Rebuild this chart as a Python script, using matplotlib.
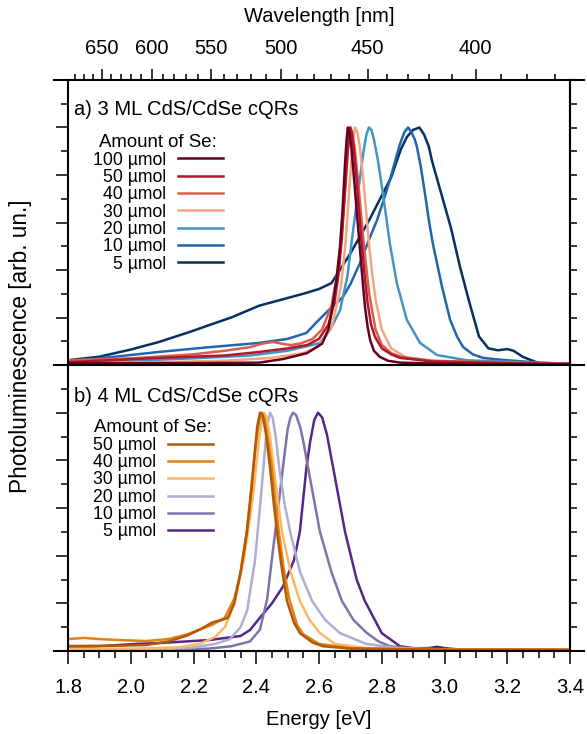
import numpy as np
import matplotlib
matplotlib.use("Agg")
import matplotlib.pyplot as plt
from matplotlib.lines import Line2D
from matplotlib.ticker import MultipleLocator, FixedLocator, NullFormatter

plt.rcParams['font.family'] = ['Liberation Sans', 'DejaVu Sans']

# ---------------- data: panel a) 3 ML ----------------
a_labels = ["100 µmol", "50 µmol", "40 µmol", "30 µmol", "20 µmol", "10 µmol", "5 µmol"]
a_colors = ["#67001f", "#b2182b", "#d6604d", "#f4a582", "#4393c3", "#2166ac", "#053061"]

a100_E = [1.80, 2.00, 2.20, 2.41, 2.485, 2.562, 2.61, 2.63, 2.641, 2.655, 2.667, 2.675, 2.683, 2.688, 2.692, 2.697, 2.703, 2.712, 2.722, 2.731, 2.74, 2.747, 2.755, 2.763, 2.775, 2.794, 2.82, 2.858, 3.00, 3.40]
a100_I = [0.008, 0.008, 0.008, 0.010, 0.025, 0.050, 0.090, 0.150, 0.230, 0.350, 0.500, 0.650, 0.850, 0.950, 1.000, 0.980, 0.920, 0.780, 0.620, 0.480, 0.340, 0.240, 0.160, 0.105, 0.060, 0.034, 0.018, 0.010, 0.005, 0.002]

a50_E = [1.80, 2.09, 2.30, 2.41, 2.50, 2.562, 2.60, 2.63, 2.65, 2.662, 2.672, 2.682, 2.69, 2.695, 2.699, 2.704, 2.71, 2.72, 2.728, 2.737, 2.746, 2.755, 2.766, 2.778, 2.80, 2.83, 2.858, 2.96, 3.20, 3.40]
a50_I = [0.012, 0.030, 0.040, 0.055, 0.070, 0.084, 0.110, 0.170, 0.270, 0.380, 0.520, 0.720, 0.880, 0.960, 1.000, 0.980, 0.920, 0.780, 0.640, 0.500, 0.370, 0.260, 0.170, 0.120, 0.070, 0.045, 0.030, 0.015, 0.008, 0.005]

a40_E = [1.80, 2.00, 2.20, 2.30, 2.38, 2.42, 2.453, 2.48, 2.51, 2.54, 2.58, 2.61, 2.64, 2.66, 2.672, 2.684, 2.692, 2.70, 2.706, 2.714, 2.725, 2.735, 2.745, 2.76, 2.78, 2.80, 2.83, 2.86, 2.96, 3.20, 3.40]
a40_I = [0.020, 0.028, 0.045, 0.060, 0.075, 0.090, 0.097, 0.090, 0.084, 0.090, 0.110, 0.150, 0.250, 0.400, 0.540, 0.750, 0.900, 1.000, 0.980, 0.910, 0.770, 0.620, 0.480, 0.300, 0.150, 0.085, 0.050, 0.035, 0.018, 0.010, 0.005]

a30_E = [1.80, 2.10, 2.30, 2.45, 2.55, 2.60, 2.64, 2.67, 2.685, 2.697, 2.705, 2.71, 2.715, 2.722, 2.73, 2.74, 2.75, 2.76, 2.77, 2.78, 2.80, 2.83, 2.88, 3.00, 3.40]
a30_I = [0.010, 0.012, 0.018, 0.030, 0.050, 0.080, 0.160, 0.330, 0.520, 0.750, 0.890, 0.960, 1.000, 0.980, 0.920, 0.800, 0.650, 0.500, 0.380, 0.280, 0.150, 0.070, 0.030, 0.012, 0.005]

a20_E = [1.80, 2.00, 2.20, 2.38, 2.50, 2.58, 2.603, 2.635, 2.667, 2.69, 2.71, 2.731, 2.742, 2.751, 2.759, 2.767, 2.775, 2.788, 2.804, 2.826, 2.848, 2.88, 2.922, 2.976, 3.07, 3.231, 3.40]
a20_I = [0.012, 0.018, 0.028, 0.040, 0.060, 0.085, 0.093, 0.147, 0.230, 0.370, 0.580, 0.790, 0.900, 0.970, 1.000, 0.990, 0.950, 0.860, 0.720, 0.510, 0.345, 0.190, 0.093, 0.042, 0.020, 0.012, 0.005]

a10_E = [1.80, 1.95, 2.09, 2.25, 2.41, 2.50, 2.56, 2.59, 2.63, 2.676, 2.70, 2.731, 2.76, 2.785, 2.81, 2.826, 2.845, 2.858, 2.872, 2.884, 2.895, 2.905, 2.912, 2.925, 2.938, 2.95, 2.963, 2.992, 3.018, 3.04, 3.059, 3.09, 3.123, 3.18, 3.231, 3.30, 3.40]
a10_I = [0.015, 0.035, 0.055, 0.075, 0.093, 0.110, 0.135, 0.177, 0.230, 0.286, 0.340, 0.430, 0.530, 0.610, 0.710, 0.780, 0.870, 0.930, 0.980, 1.000, 0.980, 0.950, 0.920, 0.830, 0.720, 0.610, 0.510, 0.330, 0.190, 0.120, 0.076, 0.045, 0.030, 0.022, 0.017, 0.010, 0.005]

a5_E = [1.80, 1.90, 2.00, 2.09, 2.19, 2.25, 2.32, 2.41, 2.48, 2.55, 2.60, 2.64, 2.70, 2.76, 2.83, 2.86, 2.88, 2.90, 2.92, 2.935, 2.95, 2.96, 2.99, 3.02, 3.05, 3.08, 3.11, 3.14, 3.17, 3.20, 3.22, 3.25, 3.30, 3.35, 3.40]
a5_I = [0.020, 0.035, 0.065, 0.097, 0.140, 0.168, 0.200, 0.250, 0.275, 0.300, 0.320, 0.345, 0.470, 0.610, 0.790, 0.905, 0.960, 0.990, 1.000, 0.970, 0.920, 0.860, 0.720, 0.580, 0.410, 0.260, 0.120, 0.070, 0.062, 0.067, 0.060, 0.034, 0.008, 0.003, 0.000]

# ---------------- data: panel b) 4 ML ----------------
b_labels = ["50 µmol", "40 µmol", "30 µmol", "20 µmol", "10 µmol", "5 µmol"]
b_colors = ["#b35806", "#e08214", "#fdb863", "#b2abd2", "#8073ac", "#542788"]

b50_E = [1.80, 1.95, 2.05, 2.12, 2.18, 2.22, 2.26, 2.29, 2.31, 2.33, 2.35, 2.37, 2.385, 2.395, 2.403, 2.412, 2.42, 2.43, 2.444, 2.455, 2.466, 2.48, 2.498, 2.52, 2.539, 2.58, 2.613, 2.70, 3.00, 3.40]
b50_I = [0.021, 0.022, 0.025, 0.040, 0.065, 0.090, 0.120, 0.130, 0.140, 0.200, 0.330, 0.500, 0.680, 0.830, 0.940, 1.000, 0.990, 0.920, 0.770, 0.630, 0.500, 0.360, 0.210, 0.120, 0.075, 0.035, 0.020, 0.010, 0.005, 0.005]

b40_E = [1.80, 1.85, 1.90, 1.98, 2.05, 2.12, 2.18, 2.22, 2.26, 2.30, 2.33, 2.35, 2.37, 2.39, 2.40, 2.41, 2.418, 2.426, 2.436, 2.45, 2.46, 2.472, 2.487, 2.505, 2.53, 2.55, 2.60, 2.70, 3.00, 3.40]
b40_I = [0.050, 0.055, 0.050, 0.045, 0.042, 0.050, 0.070, 0.090, 0.110, 0.140, 0.220, 0.330, 0.500, 0.760, 0.880, 0.970, 1.000, 0.980, 0.900, 0.770, 0.640, 0.500, 0.350, 0.220, 0.110, 0.070, 0.030, 0.012, 0.006, 0.005]

b30_E = [1.80, 2.00, 2.15, 2.22, 2.27, 2.30, 2.33, 2.36, 2.39, 2.40, 2.41, 2.418, 2.425, 2.433, 2.443, 2.453, 2.467, 2.482, 2.51, 2.539, 2.57, 2.603, 2.65, 2.75, 3.00, 3.40]
b30_I = [0.010, 0.010, 0.015, 0.030, 0.060, 0.100, 0.200, 0.380, 0.650, 0.780, 0.900, 0.970, 1.000, 0.980, 0.910, 0.800, 0.650, 0.500, 0.330, 0.210, 0.130, 0.075, 0.030, 0.012, 0.006, 0.005]

b20_E = [1.80, 2.10, 2.20, 2.27, 2.316, 2.35, 2.371, 2.396, 2.415, 2.43, 2.437, 2.444, 2.452, 2.462, 2.475, 2.49, 2.508, 2.54, 2.578, 2.62, 2.667, 2.75, 2.85, 3.00, 3.40]
b20_I = [0.005, 0.008, 0.015, 0.030, 0.050, 0.100, 0.170, 0.380, 0.650, 0.880, 0.960, 1.000, 0.980, 0.900, 0.750, 0.620, 0.500, 0.330, 0.210, 0.130, 0.075, 0.030, 0.012, 0.006, 0.004]

b10_E = [1.80, 2.10, 2.25, 2.32, 2.38, 2.412, 2.435, 2.453, 2.47, 2.485, 2.50, 2.509, 2.517, 2.527, 2.54, 2.55, 2.565, 2.603, 2.64, 2.673, 2.71, 2.753, 2.79, 2.826, 2.90, 3.00, 3.40]
b10_I = [0.003, 0.005, 0.010, 0.020, 0.040, 0.090, 0.220, 0.420, 0.600, 0.770, 0.930, 0.980, 1.000, 0.990, 0.940, 0.880, 0.770, 0.500, 0.330, 0.210, 0.130, 0.075, 0.040, 0.020, 0.010, 0.007, 0.004]

b5_E = [1.80, 1.90, 2.02, 2.10, 2.25, 2.35, 2.38, 2.412, 2.45, 2.485, 2.52, 2.539, 2.56, 2.572, 2.585, 2.597, 2.61, 2.625, 2.645, 2.683, 2.72, 2.746, 2.80, 2.858, 2.90, 2.95, 2.976, 3.00, 3.05, 3.40]
b5_I = [0.010, 0.020, 0.030, 0.034, 0.046, 0.063, 0.088, 0.140, 0.200, 0.270, 0.380, 0.500, 0.770, 0.880, 0.970, 1.000, 0.980, 0.910, 0.770, 0.500, 0.300, 0.210, 0.075, 0.020, 0.012, 0.012, 0.018, 0.012, 0.006, 0.004]

a_E = [a100_E, a50_E, a40_E, a30_E, a20_E, a10_E, a5_E]
a_I = [a100_I, a50_I, a40_I, a30_I, a20_I, a10_I, a5_I]
b_E = [b50_E, b40_E, b30_E, b20_E, b10_E, b5_E]
b_I = [b50_I, b40_I, b30_I, b20_I, b10_I, b5_I]

x_ticks = [1.8, 2.0, 2.2, 2.4, 2.6, 2.8, 3.0, 3.2, 3.4]
wl_ticks = [650, 600, 550, 500, 450, 400]
wl_minor = list(range(370, 690, 10))

# ---------------- figure ----------------
W, H = 587, 734
fig = plt.figure(figsize=(W / 100, H / 100), dpi=100)
L, R = 68, 570
ax1 = fig.add_axes([L / W, 1 - 365 / H, (R - L) / W, 285 / H])
ax2 = fig.add_axes([L / W, 1 - 651 / H, (R - L) / W, 286 / H], sharex=ax1)

lw = 1.8
FS = 14.5


def style(ax):
    ax.set_xlim(1.8, 3.4)
    ax.set_ylim(0, 1.2)
    for s in ("top", "bottom"):
        ax.spines[s].set_visible(False)
    for s in ("left", "right"):
        ax.spines[s].set_linewidth(1.5)
    ax.yaxis.set_major_locator(MultipleLocator(0.2))
    ax.yaxis.set_minor_locator(MultipleLocator(0.1))
    ax.tick_params(axis="y", which="both", left=True, right=False, labelleft=False,
                   direction="out", width=1.1)
    ax.tick_params(axis="y", which="major", length=9)
    ax.tick_params(axis="y", which="minor", length=5)
    sy = ax.secondary_yaxis("right")
    sy.set_yticks(np.arange(0, 1.21, 0.1))
    sy.yaxis.set_major_formatter(NullFormatter())
    sy.tick_params(axis="y", direction="out", length=5, width=1.1)
    sy.spines["right"].set_linewidth(1.5)


style(ax1)
style(ax2)

lines_a = []
for E, I, c, lab in reversed(list(zip(a_E, a_I, a_colors, a_labels))):
    ln, = ax1.plot(E, I, color=c, lw=lw, label=lab, solid_joinstyle="round")
    lines_a.append(ln)
lines_a = lines_a[::-1]

lines_b = []
for E, I, c, lab in reversed(list(zip(b_E, b_I, b_colors, b_labels))):
    ln, = ax2.plot(E, I, color=c, lw=lw, label=lab, solid_joinstyle="round")
    lines_b.append(ln)
lines_b = lines_b[::-1]

ax1.tick_params(axis="x", which="both", bottom=False, top=False, labelbottom=False)

ax2.xaxis.set_major_locator(FixedLocator(x_ticks))
ax2.xaxis.set_minor_locator(MultipleLocator(0.05))
ax2.set_xticklabels([f"{v:.1f}" for v in x_ticks])
ax2.tick_params(axis="x", which="both", direction="out", width=1.1, labelsize=FS, pad=10)
ax2.tick_params(axis="x", which="major", length=9.5)
ax2.tick_params(axis="x", which="minor", length=5)
ax2.set_xlabel("Energy [eV]", fontsize=FS, labelpad=9)


def e2l(E):
    E = np.asarray(E, dtype=float)
    with np.errstate(divide="ignore", invalid="ignore"):
        return 1239.84 / E


sec = ax1.secondary_xaxis("top", functions=(e2l, e2l))
sec.set_xticks(wl_ticks)
sec.set_xticklabels([str(v) for v in wl_ticks])
sec.xaxis.set_minor_locator(FixedLocator(wl_minor))
sec.tick_params(axis="x", which="both", direction="out", width=1.1, labelsize=FS, pad=8)
sec.tick_params(axis="x", which="major", length=8)
sec.tick_params(axis="x", which="minor", length=4.3)
sec.spines["top"].set_visible(False)
sec.set_xlabel("Wavelength [nm]", fontsize=FS, labelpad=12)

fig.text(21 / W, 1 - 346 / H, "Photoluminescence [arb. un.]", rotation=90,
         ha="center", va="center", fontsize=16.3)

for yy in (80, 365, 651):
    fig.add_artist(Line2D([54 / W, 584 / W], [1 - yy / H, 1 - yy / H],
                          color="black", lw=1.5, transform=fig.transFigure))

ax1.text(0.012, 0.877, "a) 3 ML CdS/CdSe cQRs", transform=ax1.transAxes,
         fontsize=FS, ha="left", va="baseline")
ax2.text(0.012, 0.871, "b) 4 ML CdS/CdSe cQRs", transform=ax2.transAxes,
         fontsize=FS, ha="left", va="baseline")

leg_kw = dict(loc="upper left", frameon=False, fontsize=12.7, title_fontsize=13.4,
              markerfirst=False, handlelength=2.55, handletextpad=0.65,
              labelspacing=0.02, borderpad=0, borderaxespad=0)
ax1.legend(handles=lines_a, title="Amount of Se:", bbox_to_anchor=(0.05, 0.81), **leg_kw)
ax2.legend(handles=lines_b, title="Amount of Se:", bbox_to_anchor=(0.05, 0.81), **leg_kw)

fig.savefig("out.png", dpi=100)
